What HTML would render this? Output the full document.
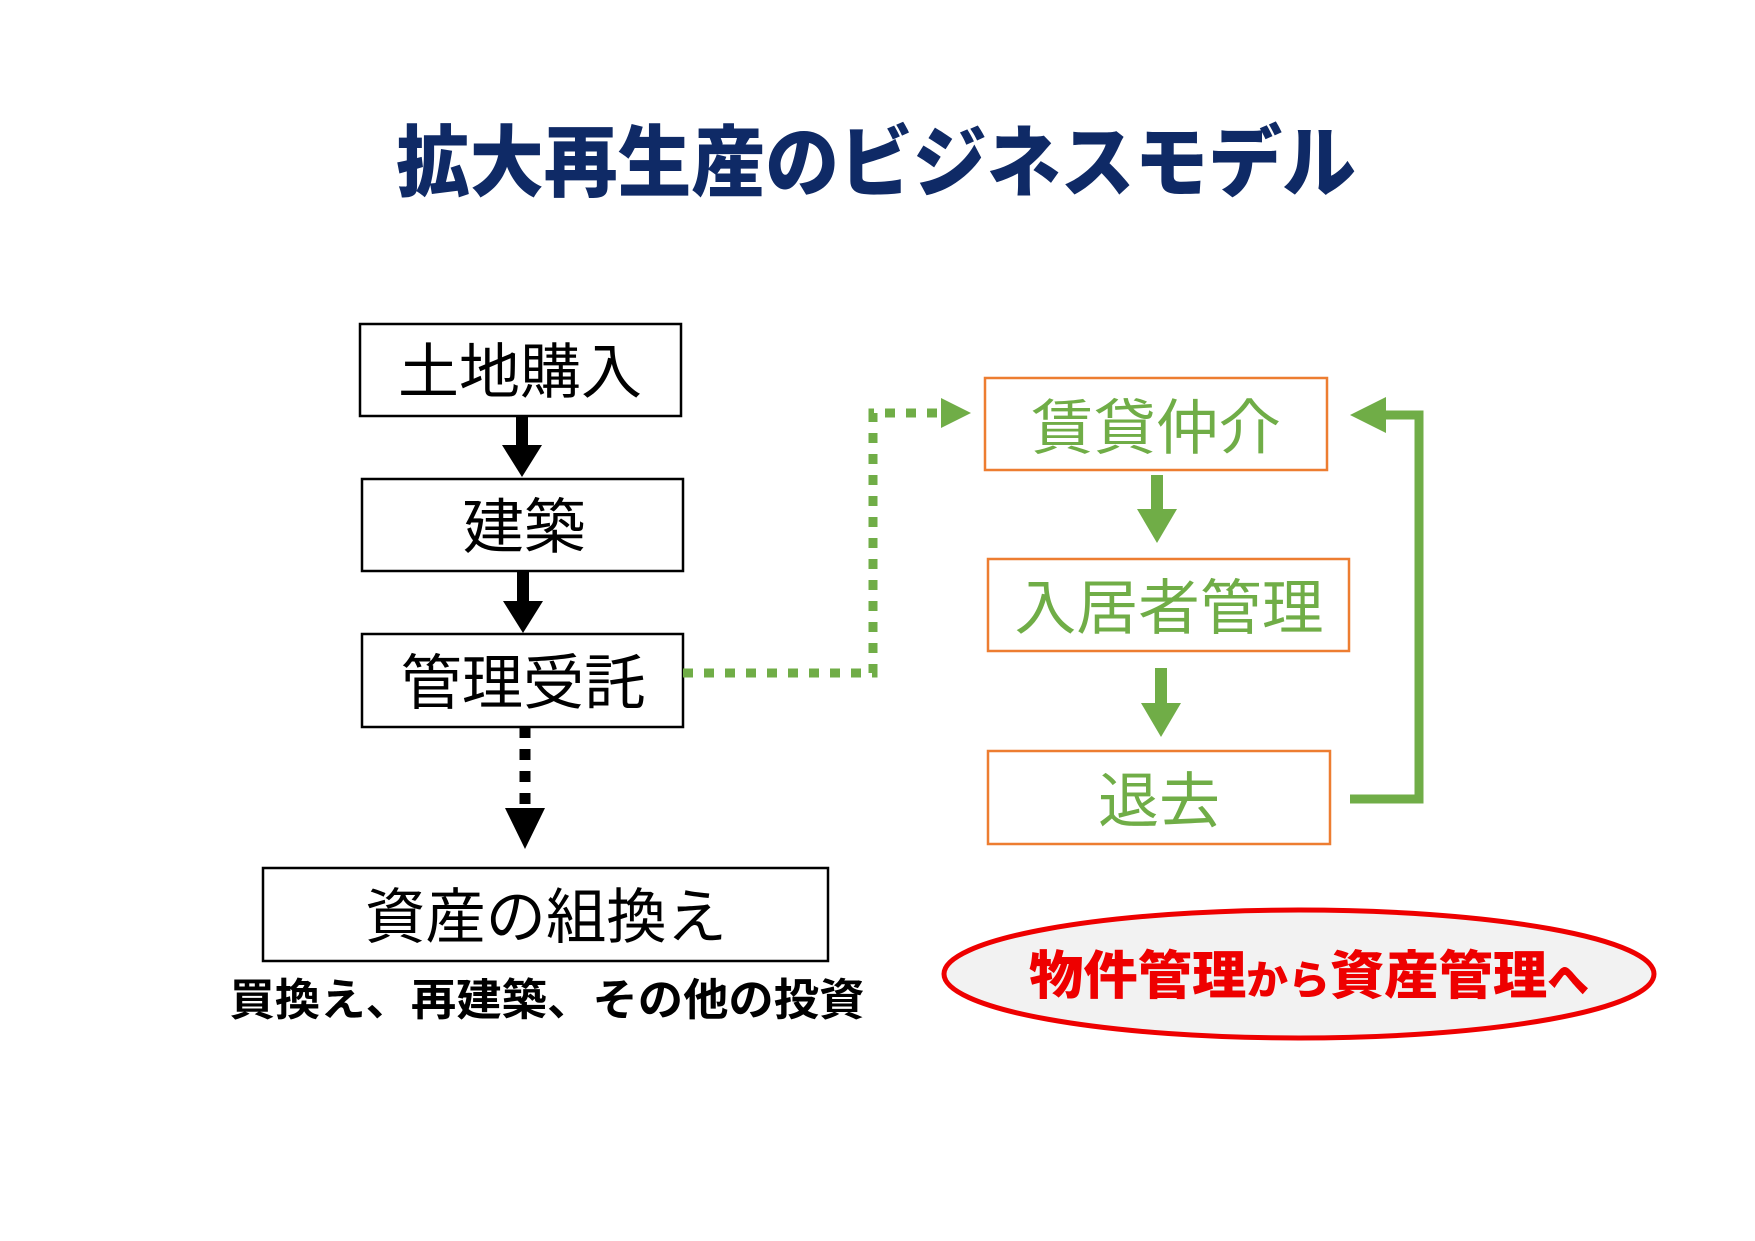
<!DOCTYPE html>
<html><head><meta charset="utf-8"><style>
html,body{margin:0;padding:0;background:#fff;}
svg{display:block}
text{font-family:"Liberation Sans","Noto Sans CJK JP",sans-serif;}
</style></head><body>
<svg width="1755" height="1241" viewBox="0 0 1755 1241" xmlns="http://www.w3.org/2000/svg">
<rect width="1755" height="1241" fill="#fff"/>
<text x="876" y="190" text-anchor="middle" font-size="78" font-weight="900" fill="#0f2a66" textLength="960" lengthAdjust="spacingAndGlyphs">拡大再生産のビジネスモデル</text>

<g fill="#fff" stroke="#000" stroke-width="2.5">
<rect x="360" y="324" width="321" height="92"/>
<rect x="362" y="479" width="321" height="92"/>
<rect x="362" y="634" width="321" height="93"/>
<rect x="263" y="868" width="565" height="93"/>
</g>
<g font-size="60" text-anchor="middle" fill="#000">
<text x="520" y="393" textLength="244" lengthAdjust="spacingAndGlyphs">土地購入</text>
<text x="524" y="548" textLength="123" lengthAdjust="spacingAndGlyphs">建築</text>
<text x="523" y="704" textLength="245" lengthAdjust="spacingAndGlyphs">管理受託</text>
<text x="546" y="938" textLength="362" lengthAdjust="spacingAndGlyphs">資産の組換え</text>
</g>
<text x="547" y="1015" font-size="44" font-weight="bold" text-anchor="middle" fill="#000" textLength="635" lengthAdjust="spacingAndGlyphs">買換え、再建築、その他の投資</text>

<rect x="516" y="416" width="12" height="30" fill="#000"/>
<polygon points="502,445 542,445 522,477" fill="#000"/>
<rect x="517" y="571" width="12" height="31" fill="#000"/>
<polygon points="503,601 543,601 523,633" fill="#000"/>
<line x1="525" y1="727" x2="525" y2="808" stroke="#000" stroke-width="11" stroke-dasharray="11,11"/>
<polygon points="505,808 545,808 525,849" fill="#000"/>

<g fill="#fff" stroke="#ed7d31" stroke-width="2.5">
<rect x="985" y="378" width="342" height="92"/>
<rect x="988" y="559" width="361" height="92"/>
<rect x="988" y="751" width="342" height="93"/>
</g>
<g font-size="60" text-anchor="middle" fill="#70ad47">
<text x="1156" y="449" textLength="250" lengthAdjust="spacingAndGlyphs">賃貸仲介</text>
<text x="1169" y="629" textLength="309" lengthAdjust="spacingAndGlyphs">入居者管理</text>
<text x="1159" y="822" textLength="122" lengthAdjust="spacingAndGlyphs">退去</text>
</g>
<rect x="1151" y="475" width="12" height="35" fill="#70ad47"/>
<polygon points="1137,509 1177,509 1157,543" fill="#70ad47"/>
<rect x="1155" y="668" width="12" height="36" fill="#70ad47"/>
<polygon points="1141,703 1181,703 1161,737" fill="#70ad47"/>

<path d="M683,673 H873 V413 H943" fill="none" stroke="#70ad47" stroke-width="9" stroke-dasharray="10,11"/>
<polygon points="941,398 971,413 941,428" fill="#70ad47"/>

<path d="M1350,799 H1419 V415 H1384" fill="none" stroke="#70ad47" stroke-width="9"/>
<polygon points="1386,397 1386,433 1350,415" fill="#70ad47"/>

<ellipse cx="1299" cy="974" rx="355" ry="64" fill="#f2f2f2" stroke="#ee0000" stroke-width="5"/>
<text x="1309" y="994" text-anchor="middle" font-size="52" font-weight="900" fill="#ee0000" textLength="560" lengthAdjust="spacingAndGlyphs">物件管理<tspan font-size="40">から</tspan>資産管理<tspan font-size="40">へ</tspan></text>
</svg>
</body></html>
